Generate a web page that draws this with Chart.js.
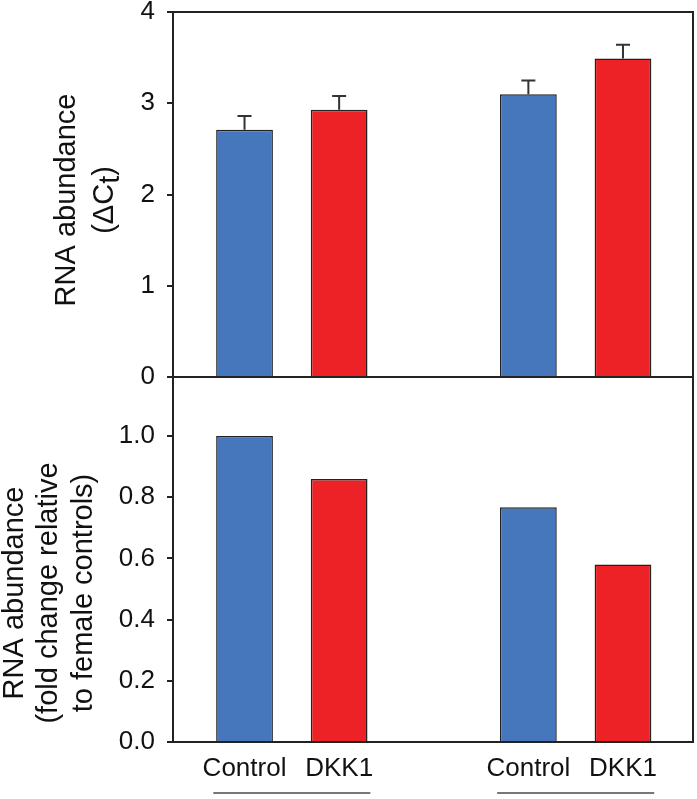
<!DOCTYPE html>
<html lang="en">
<head>
    <meta charset="UTF-8">
    <title>RNA abundance - Control vs DKK1</title>
    <script src="https://cdn.jsdelivr.net/npm/chart.js@4.4.1/dist/chart.umd.min.js"></script>
    <style>
        html, body { margin: 0; padding: 0; background: #fff; }
        #wrap { position: relative; width: 697px; height: 799px; }
        #wrap canvas { position: absolute; left: 0; }
        #topChart { top: 0; }
        #bottomChart { top: 376px; }
    </style>
</head>
<body>
<div id="wrap">
    <canvas id="topChart" width="697" height="400"></canvas>
    <canvas id="bottomChart" width="697" height="423"></canvas>
</div>

<script type="text/javascript">
    // categories (slot 3 is the empty gap between the two groups)
    var barLabels = ['Control', 'DKK1', 'Control', 'DKK1'];
    var barSlots = [1, 2, 4, 5];
    var groups = [[0, 1], [2, 3]];

    // top panel: delta Ct, upper error only
    var deltaCt = [2.71, 2.93, 3.10, 3.49];
    var deltaCtErr = [0.15, 0.15, 0.15, 0.15];
    var topTicks = [0, 1, 2, 3, 4];

    // bottom panel: fold change relative to female controls
    var foldChange = [1.0, 0.86, 0.767, 0.58];
    var bottomTicks = [0, 0.2, 0.4, 0.6, 0.8, 1.0];

    var FONT = "'Liberation Sans', Arial, sans-serif";
    var BLUE = '#4677bd', RED = '#ec2227', INK = '#222';
    var barColors = [BLUE, RED, BLUE, RED];

    Chart.defaults.font.family = FONT;
    Chart.defaults.color = '#111';

    function toPoints(vals) {
        return barSlots.map(function (x, i) { return {x: x, y: vals[i]}; });
    }

    // box round the plot area
    var frame = {
        id: 'frame',
        afterDraw: function (chart) {
            var a = chart.chartArea, ctx = chart.ctx;
            ctx.save();
            ctx.strokeStyle = INK;
            ctx.lineWidth = 2;
            ctx.strokeRect(a.left, a.top, a.right - a.left, a.bottom - a.top);
            ctx.restore();
        }
    };

    var errorBars = {
        id: 'errorBars',
        afterDatasetsDraw: function (chart, args, o) {
            if (!o.values) return;
            var meta = chart.getDatasetMeta(0), ys = chart.scales.y, ctx = chart.ctx;
            var data = chart.data.datasets[0].data;
            ctx.save();
            ctx.strokeStyle = '#333';
            ctx.lineWidth = 2;
            meta.data.forEach(function (bar, i) {
                var yTop = ys.getPixelForValue(data[i].y + o.values[i]);
                ctx.beginPath();
                ctx.moveTo(bar.x, bar.y);
                ctx.lineTo(bar.x, yTop);
                ctx.moveTo(bar.x - o.cap / 2, yTop);
                ctx.lineTo(bar.x + o.cap / 2, yTop);
                ctx.stroke();
            });
            ctx.restore();
        }
    };

    // rotated y title, lines are lists of text pieces (dy lowers a piece)
    var sideTitle = {
        id: 'sideTitle',
        afterDraw: function (chart, args, o) {
            if (!o.lines) return;
            var ctx = chart.ctx;
            ctx.save();
            ctx.font = o.size + 'px ' + FONT;
            ctx.fillStyle = '#111';
            ctx.textBaseline = 'middle';
            ctx.textAlign = 'left';
            o.lines.forEach(function (pieces, i) {
                var total = 0;
                pieces.forEach(function (p) { total += ctx.measureText(p.text).width; });
                ctx.save();
                ctx.translate(o.x[i], o.y);
                ctx.rotate(-Math.PI / 2);
                var cx = -total / 2;
                pieces.forEach(function (p) {
                    ctx.fillText(p.text, cx, p.dy || 0);
                    cx += ctx.measureText(p.text).width;
                });
                ctx.restore();
            });
            ctx.restore();
        }
    };

    // grey line under each Control/DKK1 pair
    var groupLines = {
        id: 'groupLines',
        afterDraw: function (chart, args, o) {
            if (!o.groups) return;
            var xs = chart.scales.x, ctx = chart.ctx;
            ctx.save();
            ctx.strokeStyle = '#777';
            ctx.lineWidth = 2;
            o.groups.forEach(function (g) {
                ctx.beginPath();
                ctx.moveTo(xs.getPixelForValue(barSlots[g[0]] - o.ext), o.y);
                ctx.lineTo(xs.getPixelForValue(barSlots[g[1]] + o.ext), o.y);
                ctx.stroke();
            });
            ctx.restore();
        }
    };

    function xAxis(show) {
        return {
            type: 'linear',
            display: show,
            offset: false,
            min: 0.244,
            max: 5.74,
            afterBuildTicks: function (s) {
                s.ticks = barSlots.map(function (v) { return {value: v}; });
            },
            afterFit: function (s) {
                s.paddingLeft = 0;
                s.paddingRight = 0;
                if (show) s.height = 47;
            },
            border: {display: false},
            grid: {display: false, drawTicks: false},
            ticks: {
                padding: 11,
                maxRotation: 0,
                autoSkip: false,
                font: {size: 26},
                color: '#111',
                callback: function (v, i) { return barLabels[i]; }
            }
        };
    }

    function yAxis(max, tickVals, digits) {
        return {
            min: 0,
            max: max,
            afterBuildTicks: function (s) {
                s.ticks = tickVals.map(function (v) { return {value: v}; });
            },
            afterFit: function (s) {
                s.width = 173;
                s.paddingTop = 0;
                s.paddingBottom = 0;
            },
            border: {display: true, color: INK, width: 2},
            grid: {drawOnChartArea: false, drawTicks: true, tickLength: 6, color: INK, lineWidth: 2},
            ticks: {
                padding: 12,
                font: {size: 26},
                color: '#111',
                callback: function (v) { return v.toFixed(digits); }
            }
        };
    }

    function barDataset(vals) {
        return {
            data: toPoints(vals),
            backgroundColor: barColors,
            borderColor: INK,
            borderWidth: 1.5,
            categoryPercentage: 1,
            barPercentage: 0.6
        };
    }

    new Chart(document.getElementById('topChart'), {
        type: 'bar',
        data: {datasets: [barDataset(deltaCt)]},
        options: {
            responsive: false,
            animation: false,
            devicePixelRatio: 1,
            layout: {padding: {top: 12, right: 4, bottom: 23, left: 0}},
            scales: {x: xAxis(false), y: yAxis(4, topTicks, 0)},
            plugins: {
                legend: {display: false},
                tooltip: {enabled: false},
                errorBars: {values: deltaCtErr, cap: 14},
                sideTitle: {
                    size: 29,
                    x: [67, 105],
                    y: 200,
                    lines: [
                        [{text: 'RNA abundance'}],
                        [{text: '(\u0394C'}, {text: 't', dy: 6}, {text: ')'}]
                    ]
                }
            }
        },
        plugins: [frame, errorBars, sideTitle]
    });

    new Chart(document.getElementById('bottomChart'), {
        type: 'bar',
        data: {datasets: [barDataset(foldChange)]},
        options: {
            responsive: false,
            animation: false,
            devicePixelRatio: 1,
            layout: {padding: {top: 1, right: 4, bottom: 10, left: 0}},
            scales: {x: xAxis(true), y: yAxis(1.193, bottomTicks, 1)},
            plugins: {
                legend: {display: false},
                tooltip: {enabled: false},
                sideTitle: {
                    size: 29,
                    x: [15, 49, 84],
                    y: 217,
                    lines: [
                        [{text: 'RNA abundance'}],
                        [{text: '(fold change relative'}],
                        [{text: 'to female controls)'}]
                    ]
                },
                groupLines: {groups: groups, ext: 0.33, y: 417}
            }
        },
        plugins: [frame, sideTitle, groupLines]
    });
</script>
</body>
</html>
